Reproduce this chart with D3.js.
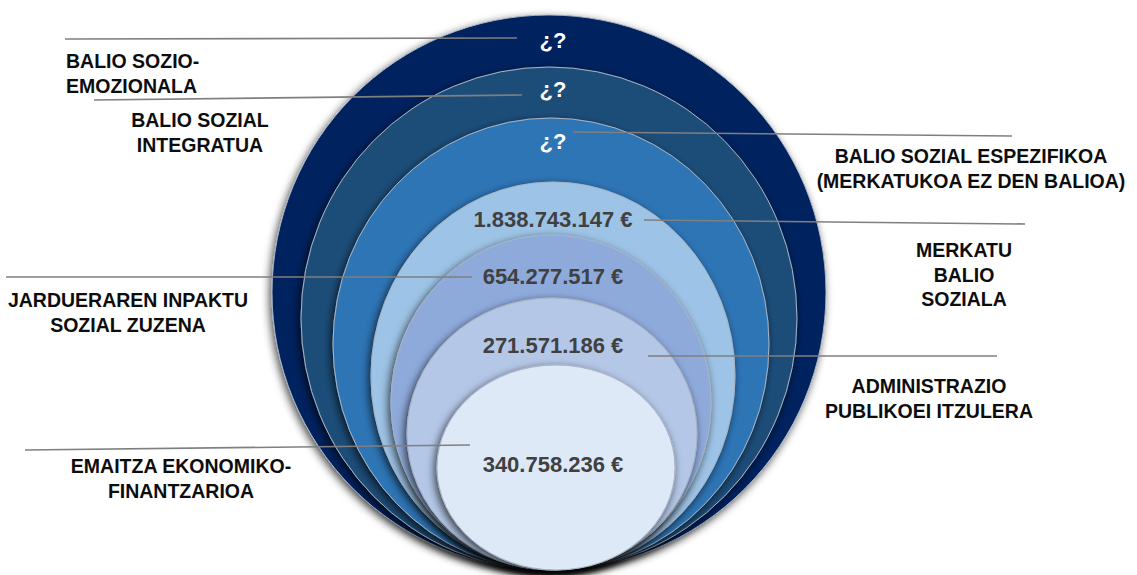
<!DOCTYPE html>
<html>
<head>
<meta charset="utf-8">
<script src="https://cdn.jsdelivr.net/npm/d3@7"></script>
<style>
  html, body { margin: 0; padding: 0; background: #fff; }
  svg { display: block; font-family: "Liberation Sans", Arial, sans-serif; }
</style>
</head>
<body>
<svg id="chart" width="1137" height="575"></svg>
<script>
// ---- data (outermost layer first) ----
const layerNames = [
  "BALIO SOZIO-EMOZIONALA",
  "BALIO SOZIAL INTEGRATUA",
  "BALIO SOZIAL ESPEZIFIKOA (MERKATUKOA EZ DEN BALIOA)",
  "MERKATU BALIO SOZIALA",
  "JARDUERAREN INPAKTU SOZIAL ZUZENA",
  "ADMINISTRAZIO PUBLIKOEI ITZULERA",
  "EMAITZA EKONOMIKO-FINANTZARIOA"
];
const layerLabelLines = [
  ["BALIO SOZIO-", "EMOZIONALA"],
  ["BALIO SOZIAL", "INTEGRATUA"],
  ["BALIO SOZIAL ESPEZIFIKOA", "(MERKATUKOA EZ DEN BALIOA)"],
  ["MERKATU", "BALIO", "SOZIALA"],
  ["JARDUERAREN INPAKTU", "SOZIAL ZUZENA"],
  ["ADMINISTRAZIO", "PUBLIKOEI ITZULERA"],
  ["EMAITZA EKONOMIKO-", "FINANTZARIOA"]
];
const layerValues = ["¿?", "¿?", "¿?", "1.838.743.147 €", "654.277.517 €", "271.571.186 €", "340.758.236 €"];

// ---- layout (positions / sizes / styles) ----
const baseY = 570;
const ringTop = [15, 67, 118, 182, 235, 298, 365];
const ringRx  = [277, 248, 218, 182, 160, 145, 119];
const ringCx  = [549, 549, 551, 553, 551, 552, 556];
const ringColor = ["#02215e", "#1f4e79", "#2e75b6", "#9dc3e6", "#8eaadb", "#b4c7e7", "#dde9f6"];
const valueBaseline = [48, 97, 149, 227, 284, 353, 472];
const valueX = 553;
const leaders = [
  [65, 39, 517, 38],
  [94, 100, 522, 95],
  [573, 132, 1012, 136],
  [644, 220, 1025, 224],
  [6, 277, 472, 277],
  [648, 356, 997, 356],
  [25, 450, 470, 445]
];
const labelPos = [
  {x: 66,  y: 68,  anchor: "start"},
  {x: 200, y: 127, anchor: "middle"},
  {x: 971, y: 163, anchor: "middle"},
  {x: 964, y: 257, anchor: "middle"},
  {x: 128, y: 307, anchor: "middle"},
  {x: 929, y: 393, anchor: "middle"},
  {x: 181, y: 473, anchor: "middle"}
];
const lineGap = 24.5;

const svg = d3.select("#chart");
const defs = svg.append("defs");
const f = defs.append("filter").attr("id", "shadow")
  .attr("x", "-10%").attr("y", "-10%").attr("width", "120%").attr("height", "125%");
f.append("feDropShadow").attr("dx", -2).attr("dy", 3).attr("stdDeviation", 4.5)
  .attr("flood-color", "#000").attr("flood-opacity", 0.7);

const idx = d3.range(layerNames.length);
const ryScale = d3.scaleOrdinal().domain(idx).range(ringTop.map(t => (baseY - t) / 2));

svg.append("g").selectAll("ellipse").data(idx).join("ellipse")
  .attr("cx", i => ringCx[i])
  .attr("cy", i => baseY - ryScale(i))
  .attr("rx", i => ringRx[i])
  .attr("ry", i => ryScale(i))
  .attr("fill", i => ringColor[i])
  .attr("stroke", "#a9b4c2")
  .attr("stroke-width", 1)
  .attr("filter", "url(#shadow)");

// leader lines
svg.append("g").selectAll("line").data(leaders).join("line")
  .attr("x1", d => d[0]).attr("y1", d => d[1])
  .attr("x2", d => d[2]).attr("y2", d => d[3])
  .attr("stroke", "#7f7f7f").attr("stroke-width", 1.6);

// values
svg.append("g").selectAll("text").data(idx).join("text")
  .attr("x", valueX)
  .attr("y", i => valueBaseline[i])
  .attr("text-anchor", "middle")
  .attr("font-weight", "bold")
  .attr("font-size", i => layerValues[i] === "¿?" ? 22 : 22)
  .attr("fill", i => layerValues[i] === "¿?" ? "#ffffff" : "#404040")
  .text(i => layerValues[i]);

// labels
const lg = svg.append("g");
idx.forEach(i => {
  const p = labelPos[i];
  const t = lg.append("text")
    .attr("x", p.x).attr("y", p.y)
    .attr("text-anchor", p.anchor)
    .attr("font-weight", "bold")
    .attr("font-size", 19.5)
    .attr("fill", "#0d0d0d");
  layerLabelLines[i].forEach((ln, k) => {
    t.append("tspan").attr("x", p.x).attr("y", p.y + k * lineGap).text(ln);
  });
});
</script>
</body>
</html>
